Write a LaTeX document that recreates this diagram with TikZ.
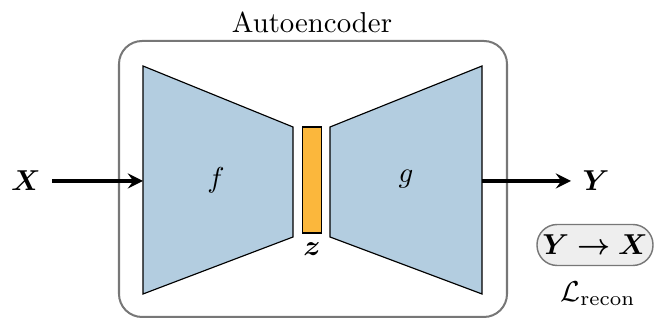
\documentclass[tikz,border=0pt]{standalone}
\usepackage{amsmath,bm}
\definecolor{encblue}{HTML}{B3CDE0}
\definecolor{zorange}{HTML}{FBB73C}
\definecolor{boxgray}{HTML}{777777}
\definecolor{pillfill}{HTML}{EEEEEE}
\begin{document}
\begin{tikzpicture}[x=0.3472pt,y=-0.3472pt,
  trap/.style={draw=black,fill=encblue,line width=0.4pt},
  arr/.style={->,>=stealth,line width=1.3pt},
  lbl/.style={inner sep=1pt}]
\useasboundingbox (0,0) rectangle (654,321);
\draw[boxgray,line width=0.7pt,rounded corners=8pt] (119,41) rectangle (507,317);
\node[lbl] (title) at (312,22) {Autoencoder};
\draw[trap] (143,66) -- (293,127) -- (293,237) -- (143,294) -- cycle;
\draw[trap] (330,127) -- (482,66) -- (482,294) -- (330,237) -- cycle;
\node[draw=black,fill=zorange,minimum width=19*0.3472pt,minimum height=106*0.3472pt,inner sep=0pt,line width=0.4pt] (z) at (312,180) {};
\node[lbl] at (216,180) {$f$};
\node[lbl] at (406,179) {$g$};
\node[lbl] (zl) at (312,249) {$\bm{z}$};
\coordinate (encin) at (143,181);
\coordinate (decout) at (482,181);
\node[lbl] (X) at (26,181) {$\bm{X}$};
\node[lbl] (Y) at (596,181) {$\bm{Y}$};
\coordinate (xs) at (52,181);
\coordinate (ye) at (571,181);
\draw[arr] (xs) -- (encin);
\draw[arr] (decout) -- (ye);
\node[draw=boxgray,fill=pillfill,rounded corners=7pt,minimum width=116*0.3472pt,minimum height=41*0.3472pt,inner sep=1pt,line width=0.5pt] (pill) at (595,245) {$\bm{Y\to X}$};
\node[lbl] (L) at (598,294) {$\mathcal{L}_{\text{recon}}$};
\end{tikzpicture}
\end{document}
